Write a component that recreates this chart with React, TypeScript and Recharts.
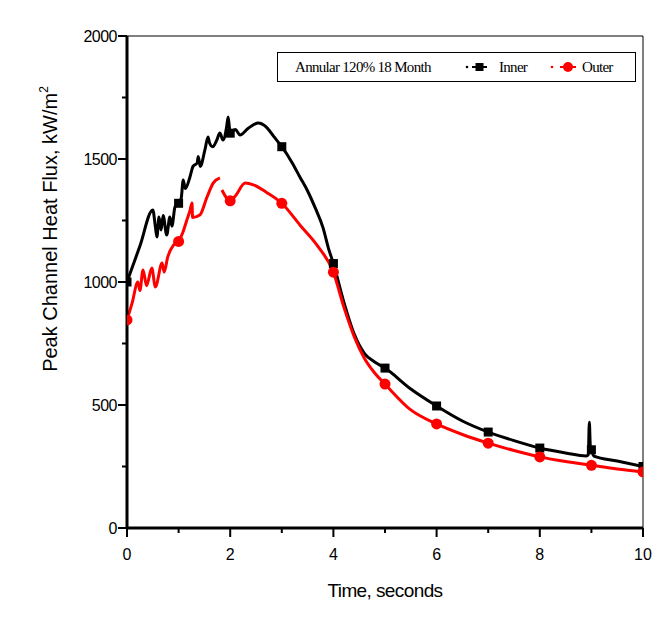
import { LineChart, Line, XAxis, YAxis, ReferenceLine } from 'recharts';

// time (s) and peak channel heat flux (kW/m2)
const innerTime = [
  0, 0.25, 0.5, 0.55, 0.58, 0.62, 0.66, 0.7, 0.77, 0.83, 0.87, 0.93, 1, 1.05, 1.09, 1.13, 1.22, 1.28,
  1.36, 1.38, 1.42, 1.51, 1.57, 1.6, 1.66, 1.74, 1.8, 1.86, 1.93, 1.96, 2, 2.1, 2.19, 2.35, 2.54,
  2.7, 2.85, 3, 3.2, 3.35, 3.5, 3.65, 3.8, 3.9, 4, 4.2, 4.4, 4.6, 4.8, 5, 5.5, 6, 6.5, 7, 7.5, 8,
  8.5, 8.9, 8.94, 8.96, 8.98, 9, 9.05, 9.5, 10,
];
const innerFlux = [
  1000, 1146, 1293, 1224, 1183, 1264, 1211, 1270, 1191, 1264, 1227, 1305, 1320, 1340, 1415, 1380, 1427, 1470,
  1484, 1510, 1470, 1537, 1589, 1565, 1550, 1577, 1606, 1577, 1630, 1671, 1605, 1620, 1598, 1625, 1646,
  1630, 1590, 1550, 1485, 1427, 1370, 1300, 1220, 1140, 1075, 920, 790, 710, 675, 650, 565, 496, 435, 390, 355, 325,
  305, 293, 298, 430, 330, 318, 292, 272, 250,
];

const outerTime = [
  0, 0.1, 0.21, 0.25, 0.31, 0.38, 0.48, 0.55, 0.68, 0.72, 0.79, 0.9, 1, 1.08, 1.16, 1.22, 1.26, 1.27,
  1.41, 1.55, 1.67, 1.8, 1.82, 1.84, 2, 2.1, 2.29, 2.45, 2.7, 3, 3.35, 3.7, 4, 4.2, 4.4, 4.6, 4.8, 5,
  5.5, 6, 6.5, 7, 7.5, 8, 8.5, 9, 9.5, 10,
];
const outerFlux = [
  846, 915, 1000, 965, 1049, 985, 1057, 980, 1077, 1040, 1102, 1150, 1165, 1200, 1252, 1290, 1321, 1262,
  1272, 1345, 1402, 1423, null, 1374, 1330, 1350, 1402, 1395, 1365, 1320, 1232, 1145, 1040, 900, 780, 690, 630, 585,
  480, 423, 380, 345, 315, 289, 270, 255, 240, 228,
];

const xTicks = [0, 1, 2, 3, 4, 5, 6, 7, 8, 9, 10];
const yTicks = [0, 250, 500, 750, 1000, 1250, 1500, 1750, 2000];

const innerData = innerTime.map((t, i) => ({ t, v: innerFlux[i] }));
const outerData = outerTime.map((t, i) => ({ t, v: outerFlux[i] }));

const tickFont = { fontFamily: 'Liberation Sans, Arial, sans-serif', fontSize: 16, fill: '#000' };

const SquareDot = (p: any) =>
  Number.isInteger(p.payload.t) && p.payload.v != null ? (
    <rect key={`sq${p.index}`} x={p.cx - 4.5} y={p.cy - 4.5} width={9} height={9} fill="#000" />
  ) : (
    <g key={`sq${p.index}`} />
  );

const CircleDot = (p: any) =>
  Number.isInteger(p.payload.t) && p.payload.v != null ? (
    <circle key={`ci${p.index}`} cx={p.cx} cy={p.cy} r={5.5} fill="#ff0000" />
  ) : (
    <g key={`ci${p.index}`} />
  );

const YTick = (p: any) => {
  const major = p.payload.value % 500 === 0;
  return (
    <g>
      <line x1={p.x - (major ? 9 : 5)} x2={p.x} y1={p.y} y2={p.y} stroke="#000" strokeWidth={2} />
      {major && (
        <text x={p.x - 10} y={p.y + 6} textAnchor="end" {...tickFont} letterSpacing={-0.5}>
          {p.payload.value}
        </text>
      )}
    </g>
  );
};

const XTick = (p: any) => {
  const major = p.payload.value % 2 === 0;
  return (
    <g>
      <line x1={p.x} x2={p.x} y1={p.y} y2={p.y + (major ? 9 : 5)} stroke="#000" strokeWidth={2} />
      {major && (
        <text x={p.x} y={p.y + 32} textAnchor="middle" {...tickFont}>
          {p.payload.value}
        </text>
      )}
    </g>
  );
};

function LegendBox() {
  return (
    <svg
      width={360}
      height={31}
      style={{ position: 'absolute', left: 277, top: 52 }}
    >
      <rect x={0.5} y={0.5} width={358} height={29} fill="#fff" stroke="#000" strokeWidth={1} />
      <g fontFamily="Liberation Serif, Times New Roman, serif" fontSize={15} fill="#000" letterSpacing={-0.7}>
        <text x={18} y={20}>Annular 120% 18 Month</text>
        <circle cx={190} cy={15} r={1.3} fill="#000" />
        <rect x={198.5} y={11} width={8} height={8} fill="#000" />
        <line x1={195} x2={210} y1={15} y2={15} stroke="#000" strokeWidth={2} />
        <text x={222} y={20}>Inner</text>
        <circle cx={275} cy={15} r={1.3} fill="#ff0000" />
        <circle cx={291} cy={15} r={5} fill="#ff0000" />
        <line x1={283} x2={299} y1={15} y2={15} stroke="#ff0000" strokeWidth={2} />
        <text x={305} y={20}>Outer</text>
      </g>
    </svg>
  );
}

export default function App() {
  return (
    <div style={{ position: 'absolute', left: 0, top: 0, width: 671, height: 634, background: '#fff' }}>
      <LineChart width={671} height={634} margin={{ top: 36, right: 28, bottom: 36, left: 0 }}>
        <XAxis
          dataKey="t"
          type="number"
          domain={[0, 10]}
          ticks={xTicks}
          allowDataOverflow
          height={70}
          axisLine={{ stroke: '#000', strokeWidth: 3 }}
          tickLine={false}
          tickSize={0}
          tickMargin={0}
          tick={<XTick />}
          interval={0}
          label={{
            content: () => (
              <text x={385} y={597} textAnchor="middle" fontFamily="Liberation Sans, Arial, sans-serif" fontSize={19} letterSpacing={-0.6} fill="#000">
                Time, seconds
              </text>
            ),
          }}
        />
        <YAxis
          type="number"
          domain={[0, 2000]}
          ticks={yTicks}
          allowDataOverflow
          width={127}
          axisLine={{ stroke: '#000', strokeWidth: 3 }}
          tickLine={false}
          tickSize={0}
          tickMargin={0}
          tick={<YTick />}
          interval={0}
          label={{
            content: () => (
              <text
                x={57}
                y={229}
                transform="rotate(-90, 57, 229)"
                textAnchor="middle"
                fontFamily="Liberation Sans, Arial, sans-serif"
                fontSize={20}
                fill="#000"
              >
                Peak Channel Heat Flux, kW/m
                <tspan fontSize={12} dy={-9}>2</tspan>
              </text>
            ),
          }}
        />
        <ReferenceLine y={2000} stroke="#000" strokeWidth={1} />
        <ReferenceLine x={10} stroke="#000" strokeWidth={1} />
        <Line
          data={innerData}
          dataKey="v"
          type="monotone"
          stroke="#000"
          strokeWidth={3}
          dot={SquareDot}
          activeDot={false}
          connectNulls={false}
          isAnimationActive={false}
        />
        <Line
          data={outerData}
          dataKey="v"
          type="monotone"
          stroke="#ff0000"
          strokeWidth={3}
          dot={CircleDot}
          activeDot={false}
          connectNulls={false}
          isAnimationActive={false}
        />
      </LineChart>
      <LegendBox />
    </div>
  );
}
